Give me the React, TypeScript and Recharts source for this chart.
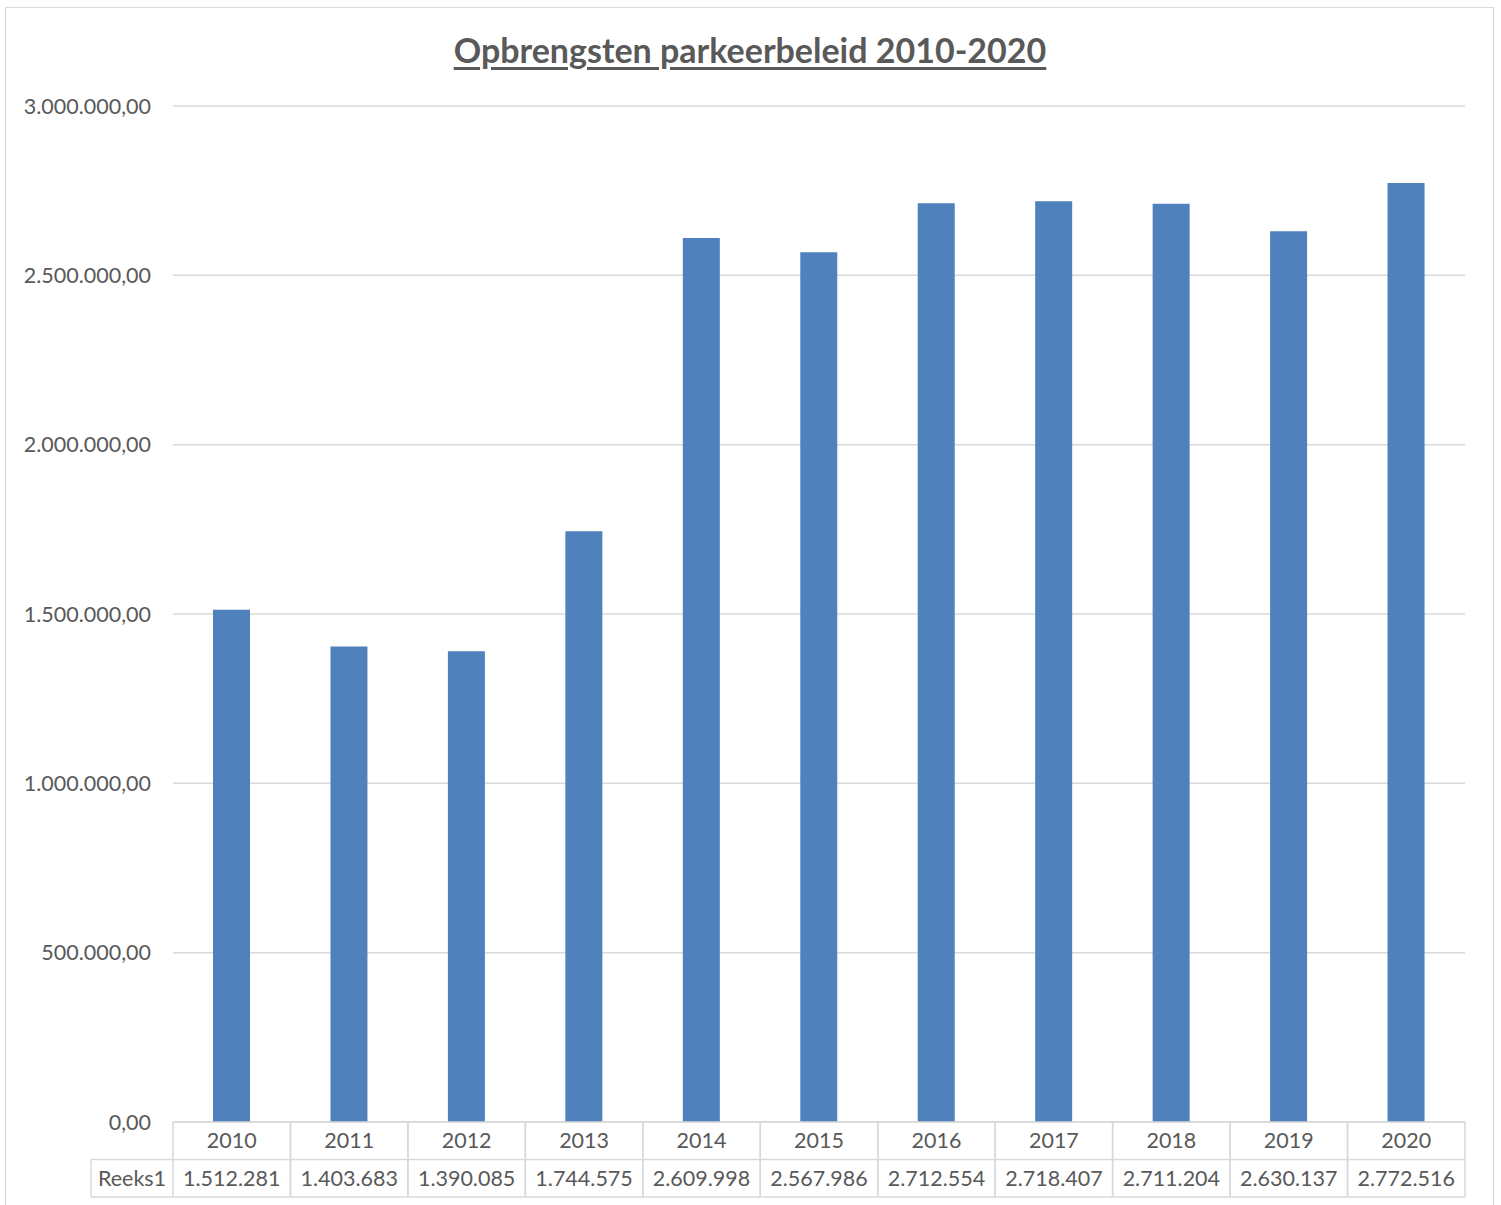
import { Bar, BarChart, CartesianGrid, XAxis, YAxis } from "recharts";

const years = ["2010", "2011", "2012", "2013", "2014", "2015", "2016", "2017", "2018", "2019", "2020"];
const revenue = [1512281, 1403683, 1390085, 1744575, 2609998, 2567986, 2712554, 2718407, 2711204, 2630137, 2772516];
const yTicks = [0, 500000, 1000000, 1500000, 2000000, 2500000, 3000000];
const seriesName = "Reeks1";
const title = "Opbrengsten parkeerbeleid 2010-2020";

const data = years.map((year, i) => ({ year, value: revenue[i] }));

const W = 1501;
const H = 1205;
const M = { top: 106, right: 36, bottom: 7, left: 0 };
const Y_AXIS_W = 173;
const ROW_H = 37.5;
const LABEL_W = 82;
const plotWidth = W - M.left - M.right - Y_AXIS_W;
const band = plotWidth / years.length;

const font = "Lato, 'Open Sans', sans-serif";
const textColor = "#595959";
const lineColor = "#d9d9d9";
const fs = 21.5;

// thousands with dots, optional decimals after a comma (Dutch style)
function dutch(n: number, decimals = 0) {
  const int = Math.floor(n).toString().replace(/\B(?=(\d{3})+(?!\d))/g, ".");
  return decimals ? int + "," + "0".repeat(decimals) : int;
}

function TableTick(props: any) {
  const { x, y, payload, index } = props;
  const left = x - band / 2;
  const right = x + band / 2;
  return (
    <g>
      <line x1={left} y1={y} x2={right} y2={y} stroke={lineColor} strokeWidth={1.5} />
      <line x1={left} y1={y + ROW_H} x2={right} y2={y + ROW_H} stroke={lineColor} strokeWidth={1.5} />
      <line x1={left} y1={y + 2 * ROW_H} x2={right} y2={y + 2 * ROW_H} stroke={lineColor} strokeWidth={1.5} />
      <line x1={right} y1={y} x2={right} y2={y + 2 * ROW_H} stroke={lineColor} strokeWidth={1.5} />
      <line x1={left} y1={y} x2={left} y2={y + 2 * ROW_H} stroke={lineColor} strokeWidth={1.5} />
      <text x={x} y={y + ROW_H / 2 + 7.5} textAnchor="middle" fill={textColor} fontSize={fs} fontFamily={font}>
        {payload.value}
      </text>
      <text x={x} y={y + ROW_H * 1.5 + 7.5} textAnchor="middle" fill={textColor} fontSize={fs} fontFamily={font}>
        {dutch(revenue[index])}
      </text>
      {index === 0 && (
        <g>
          <line x1={left - LABEL_W} y1={y + ROW_H} x2={left} y2={y + ROW_H} stroke={lineColor} strokeWidth={1.5} />
          <line x1={left - LABEL_W} y1={y + 2 * ROW_H} x2={left} y2={y + 2 * ROW_H} stroke={lineColor} strokeWidth={1.5} />
          <line x1={left - LABEL_W} y1={y + ROW_H} x2={left - LABEL_W} y2={y + 2 * ROW_H} stroke={lineColor} strokeWidth={1.5} />
          <text x={left - LABEL_W / 2} y={y + ROW_H * 1.5 + 7.5} textAnchor="middle" fill={textColor} fontSize={fs} fontFamily={font}>
            {seriesName}
          </text>
        </g>
      )}
    </g>
  );
}

export default function App() {
  return (
    <div style={{ position: "absolute", left: 0, top: 0, width: W, height: H, background: "#fff", overflow: "hidden" }}>
      <div
        style={{
          position: "absolute",
          left: 5,
          top: 7,
          width: 1489,
          height: 1210,
          border: `1.5px solid ${lineColor}`,
          boxSizing: "border-box",
        }}
      />
      <div
        style={{
          position: "absolute",
          left: 0,
          top: 29,
          width: 1500,
          textAlign: "center",
          fontFamily: font,
          fontWeight: 700,
          fontSize: 34,
          color: textColor,
          textDecoration: "underline",
          textUnderlineOffset: 4,
          lineHeight: "42px",
        }}
      >
        {title}
      </div>
      <BarChart width={W} height={H} data={data} margin={M} barSize={37} style={{ position: "absolute", left: 0, top: 0 }}>
        <CartesianGrid vertical={false} stroke={lineColor} strokeWidth={1.5} />
        <XAxis
          dataKey="year"
          height={76}
          interval={0}
          tickLine={false}
          axisLine={false}
          tickSize={0}
          tickMargin={0}
          tick={<TableTick />}
        />
        <YAxis
          width={Y_AXIS_W}
          domain={[0, 3000000]}
          ticks={yTicks}
          interval={0}
          tickLine={false}
          axisLine={false}
          tickSize={0}
          tickMargin={22}
          tickFormatter={(v: number) => dutch(v, 2)}
          tick={{ fill: textColor, fontSize: fs, fontFamily: font }}
        />
        <Bar dataKey="value" fill="#4f81bd" isAnimationActive={false} />
      </BarChart>
    </div>
  );
}
